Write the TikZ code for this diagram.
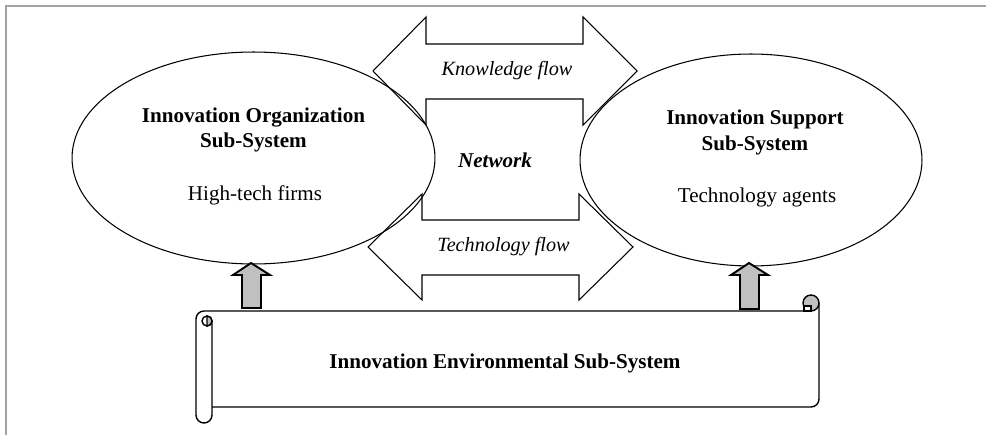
\documentclass[tikz,border=0pt]{standalone}
\usepackage{fontspec}
\setmainfont{Liberation Serif}
\usepackage{xcolor}
\usetikzlibrary{shapes.geometric}
\definecolor{framegray}{HTML}{A3A3A3}
\definecolor{liftgray}{HTML}{C0C0C0}
\tikzset{subsys/.style={ellipse, draw, line width=0.6pt, inner sep=0pt}}
\tikzset{flow/.style={draw, line width=0.6pt, line join=miter}}
\tikzset{lift/.style={draw, line width=1.1pt, fill=liftgray, line join=miter}}
\tikzset{scroll/.style={line width=0.8pt}}
\tikzset{title/.style={font=\fontsize{12}{14.5}\selectfont\bfseries, align=center}}
\tikzset{plain/.style={font=\fontsize{12}{14.5}\selectfont}}
\tikzset{flowtext/.style={font=\fontsize{11.5}{14}\selectfont\itshape}}

\begin{document}
\begin{tikzpicture}[x=0.02cm, y=-0.02cm]
\useasboundingbox (0,0) rectangle (986,435);
\draw[framegray, line width=1.3pt] (6,435) -- (6,6) -- (986,6);
% the two sub-systems
\node[subsys, minimum width=7.26cm, minimum height=4.24cm] (org) at (253.5,158) {};
\node[title] (orgname) at (253.5,130) {Innovation Organization\\Sub-System};
\node[plain] (firms) at (255,195) {High-tech firms};
\node[subsys, minimum width=6.84cm, minimum height=4.24cm] (sup) at (751,160) {};
\node[title] (supname) at (755,132.5) {Innovation Support\\Sub-System};
\node[plain] (agents) at (757,197) {Technology agents};
% flows between them
\draw[flow] (373,71) -- (426,17) -- (426,44) -- (583,44) -- (583,17) -- (637,71)
  -- (583,125) -- (583,99) -- (426,99) -- (426,125) -- cycle;
\node[flowtext] (know) at (507,71) {Knowledge flow};
\draw[flow] (368,247) -- (422,194) -- (422,220) -- (579,220) -- (579,194) -- (633,247)
  -- (579,300) -- (579,275) -- (422,275) -- (422,300) -- cycle;
\node[flowtext] (tech) at (503.5,247) {Technology flow};
\node[font=\fontsize{12}{14.5}\selectfont\bfseries\itshape] (net) at (495,160) {Network};
% environment scroll
\draw[scroll] (212,321) -- (212,415) arc (0:180:8) -- (196,319) arc (180:270:8) -- (811,311);
\draw[scroll] (819,303) -- (819,399) arc (0:90:8) -- (212,407);
\filldraw[scroll, fill=liftgray] (811,303) circle (8);
\filldraw[scroll, fill=white] (804,306) rectangle (811,311);
\draw[scroll] (207,321) circle (5);
\filldraw[scroll, fill=liftgray] (207,316) arc (-90:90:5) -- cycle;
\node[title] (env) at (505,363) {Innovation Environmental Sub-System};
% support arrows
\draw[lift] (251,263) -- (270,275) -- (261,275) -- (261,308) -- (242,308) -- (242,275) -- (233,275) -- cycle;
\draw[lift] (749,263) -- (768,275) -- (759,275) -- (759,309) -- (740,309) -- (740,275) -- (731,275) -- cycle;
\end{tikzpicture}
\end{document}
